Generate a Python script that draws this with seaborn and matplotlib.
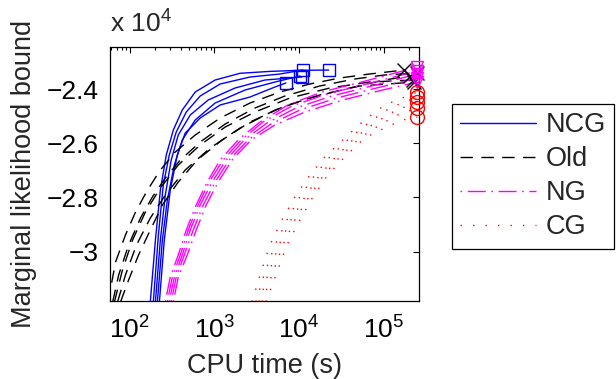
import pandas as pd
import matplotlib
matplotlib.use("Agg")
import matplotlib.pyplot as plt
import matplotlib.ticker as mticker
from matplotlib.lines import Line2D
import seaborn as sns

# ----------------------------------------
# Data (5 runs per method)
# ----------------------------------------
methods = ["NCG", "Old", "NG", "CG"]

ncg_time = [
    [175, 201, 230, 270, 327, 417, 593, 1019, 2006, 4523, 10190, 22360],
    [190, 218, 249, 293, 354, 465, 679, 1167, 2630, 5929, 11050],
    [201, 230, 263, 309, 374, 518, 843, 1752, 3950, 10760],
    [212, 243, 278, 336, 417, 593, 1019, 2297, 5178, 10190],
    [224, 256, 301, 364, 452, 679, 1167, 2630, 5178, 6975],
]
ncg_bound = [
    [-31850, -29572, -27727, -26435, -25513, -24775, -24111, -23668, -23420, -23350, -23310, -23300],
    [-31850, -29387, -27542, -26435, -25587, -24849, -24258, -23815, -23557, -23446, -23300],
    [-31850, -29572, -27911, -26620, -25697, -24959, -24406, -23963, -23668, -23557],
    [-31850, -29572, -28096, -26804, -25882, -25144, -24517, -24037, -23742, -23520],
    [-31850, -29572, -27727, -26435, -25624, -25070, -24590, -24295, -23926, -23779],
]

old_time = [
    [55, 59, 68, 89, 117, 162, 230, 345, 593, 1170, 2630, 5930, 13400, 30100, 67900, 175000],
    [63, 74, 97, 134, 185, 263, 395, 679, 1340, 3010, 6790, 17500, 45200, 102000, 243000],
    [66, 82, 108, 153, 230, 374, 679, 1340, 3010, 7770, 23000, 67900, 218000],
    [72, 89, 120, 175, 263, 452, 890, 2010, 5180, 13400, 39500, 102000, 201000],
    [78, 97, 127, 175, 243, 374, 626, 1230, 2630, 6790, 17500, 51800, 230000],
]
old_bound = [
    [-31900, -31417, -30383, -29387, -28539, -27727, -26989, -26325, -25697, -25070, -24517, -24111, -23815, -23594, -23446, -23299],
    [-31850, -30863, -29756, -28760, -27985, -27284, -26620, -25956, -25291, -24701, -24258, -23889, -23631, -23483, -23410],
    [-31850, -30679, -29572, -28539, -27653, -26804, -26066, -25402, -24849, -24332, -23963, -23742, -23668],
    [-31850, -30863, -29756, -28760, -27911, -26989, -26177, -25439, -24775, -24332, -23963, -23668, -23520],
    [-31850, -31048, -30125, -29203, -28280, -27432, -26620, -25882, -25218, -24627, -24221, -23889, -23742],
]

ng_time = [
    [263, 301, 374, 465, 609, 821, 1167, 1900, 3450, 7360, 18500, 54700, 249000],
    [278, 318, 395, 490, 643, 866, 1266, 2062, 3741, 8207, 21180, 62610, 249000],
    [293, 336, 417, 518, 679, 940, 1373, 2236, 4169, 9147, 24260, 71670, 249000],
    [309, 354, 440, 562, 737, 1019, 1489, 2492, 4647, 10190, 27770, 82060, 249000],
    [327, 374, 477, 609, 799, 1105, 1615, 2703, 5178, 11670, 32680, 96540, 249000],
]
ng_bound = [
    [-31850, -30937, -30125, -29203, -28280, -27432, -26620, -25882, -25218, -24590, -24111, -23742, -23188],
    [-31850, -30937, -30125, -29203, -28280, -27432, -26620, -25882, -25218, -24627, -24185, -23815, -23336],
    [-31850, -30937, -30125, -29203, -28280, -27432, -26620, -25882, -25255, -24701, -24258, -23889, -23446],
    [-31850, -30937, -30125, -29203, -28280, -27432, -26620, -25882, -25292, -24775, -24332, -23963, -23594],
    [-31850, -30937, -30125, -29203, -28280, -27432, -26620, -25882, -25328, -24849, -24406, -24037, -23742],
]

cg_time = [
    [2780, 3450, 4520, 6260, 8900, 13400, 20100, 34500, 59300, 102000, 249000],
    [3090, 3840, 5180, 7170, 10200, 15300, 23000, 39500, 67900, 117000, 249000],
    [3360, 4280, 5770, 7990, 11700, 17500, 27000, 45200, 77700, 134000, 249000],
    [3640, 4770, 6430, 8900, 13000, 19500, 30100, 51800, 89000, 153000, 249000],
    [4060, 5320, 7170, 10200, 14500, 21800, 34500, 59300, 102000, 166000, 249000],
]
cg_bound = [
    [-31850, -30863, -29756, -28834, -27985, -27173, -26509, -25808, -25144, -24590, -24111],
    [-31850, -30863, -29756, -28834, -27985, -27173, -26509, -25808, -25218, -24701, -24295],
    [-31850, -30863, -29756, -28834, -27985, -27173, -26509, -25808, -25255, -24812, -24480],
    [-31850, -30863, -29756, -28834, -27985, -27173, -26509, -25808, -25328, -24922, -24701],
    [-31850, -30863, -29756, -28834, -27985, -27173, -26509, -25808, -25439, -25144, -25033],
]

y_ticks = [-30000, -28000, -26000, -24000]

# ----------------------------------------
# Styles
# ----------------------------------------
palette = {"NCG": "#0000ff", "Old": "#000000", "NG": "#ff00ff", "CG": "#ff0000"}
dash_map = {"NCG": "", "Old": (9, 6), "NG": (1.2, 4, 13, 4), "CG": (1, 8)}
end_marker = {"NCG": "s", "Old": "x", "NG": "v", "CG": "o"}
end_size = {"NCG": 9, "Old": 10, "NG": 8, "CG": 10}

sns.set_style("white")
plt.rcParams["font.family"] = ["Liberation Sans", "DejaVu Sans"]
plt.rcParams["axes.unicode_minus"] = True

# ----------------------------------------
# Long table
# ----------------------------------------
all_time = {"NCG": ncg_time, "Old": old_time, "NG": ng_time, "CG": cg_time}
all_bound = {"NCG": ncg_bound, "Old": old_bound, "NG": ng_bound, "CG": cg_bound}

rows = []
for m in methods:
    for r, (ts, bs) in enumerate(zip(all_time[m], all_bound[m])):
        for t, b in zip(ts, bs):
            rows.append({"method": m, "run": r, "time": t, "bound": b})
df = pd.DataFrame(rows)

# ----------------------------------------
# Plot
# ----------------------------------------
fig = plt.figure(figsize=(6.16, 3.79), dpi=100)
ax = fig.add_axes([110 / 616, 1 - 301 / 379, 309 / 616, 254 / 379])
ax.set_xscale("log")

sns.lineplot(
    data=df, x="time", y="bound",
    hue="method", style="method", units="run", estimator=None,
    palette=palette, dashes=dash_map, hue_order=methods, style_order=methods,
    linewidth=1.0, legend=False, sort=False, ax=ax,
)

for m in methods:
    ends_t = [ts[-1] for ts in all_time[m]]
    ends_b = [bs[-1] for bs in all_bound[m]]
    ax.plot(ends_t, ends_b, ls="none", marker=end_marker[m], ms=end_size[m],
            mfc="none", mec=palette[m], mew=1.0, clip_on=False, zorder=5)

ax.set_xlim(58.5, 260000)
ax.set_ylim(-31820, -22450)
ax.set_yticks(y_ticks)
ax.yaxis.set_major_formatter(
    mticker.FuncFormatter(lambda v, p: f"{v / 1e4:g}".replace("-", "\u2212")))
ax.xaxis.set_major_locator(mticker.LogLocator(base=10, numticks=10))
ax.xaxis.set_minor_locator(mticker.LogLocator(base=10, subs=range(2, 10), numticks=20))
ax.xaxis.set_minor_formatter(mticker.NullFormatter())

ax.tick_params(which="both", direction="in", top=True, right=True,
               labelsize=19, colors="black", width=0.8)
ax.tick_params(which="major", length=4, pad=8)
ax.tick_params(axis="x", which="major", pad=11)
ax.tick_params(which="minor", length=2)
for s in ax.spines.values():
    s.set_color("black")
    s.set_linewidth(0.9)

ax.set_xlabel("CPU time (s)", fontsize=19.5)
ax.set_ylabel("Marginal likelihood bound", fontsize=19.5)
ax.xaxis.set_label_coords(0.5, -0.205)
ax.yaxis.set_label_coords(-0.236, 0.5)

fig.text(110 / 616, 1 - 33 / 379, r"x $\mathdefault{10^{4}}$", fontsize=19,
         ha="left", va="baseline")

handles = [
    Line2D([], [], color=palette[m], lw=1.0,
           ls="-" if m == "NCG" else (0, dash_map[m]))
    for m in methods
]
leg = fig.legend(handles, methods, loc="upper left",
                 bbox_to_anchor=(452 / 616, 1 - 104 / 379), borderaxespad=0,
                 fontsize=19.5, frameon=True, fancybox=False, framealpha=1,
                 edgecolor="black", handlelength=2.8, handletextpad=0.35,
                 borderpad=0.3, labelspacing=0.3)
leg.get_frame().set_linewidth(0.9)

fig.savefig("out.png", dpi=100)
